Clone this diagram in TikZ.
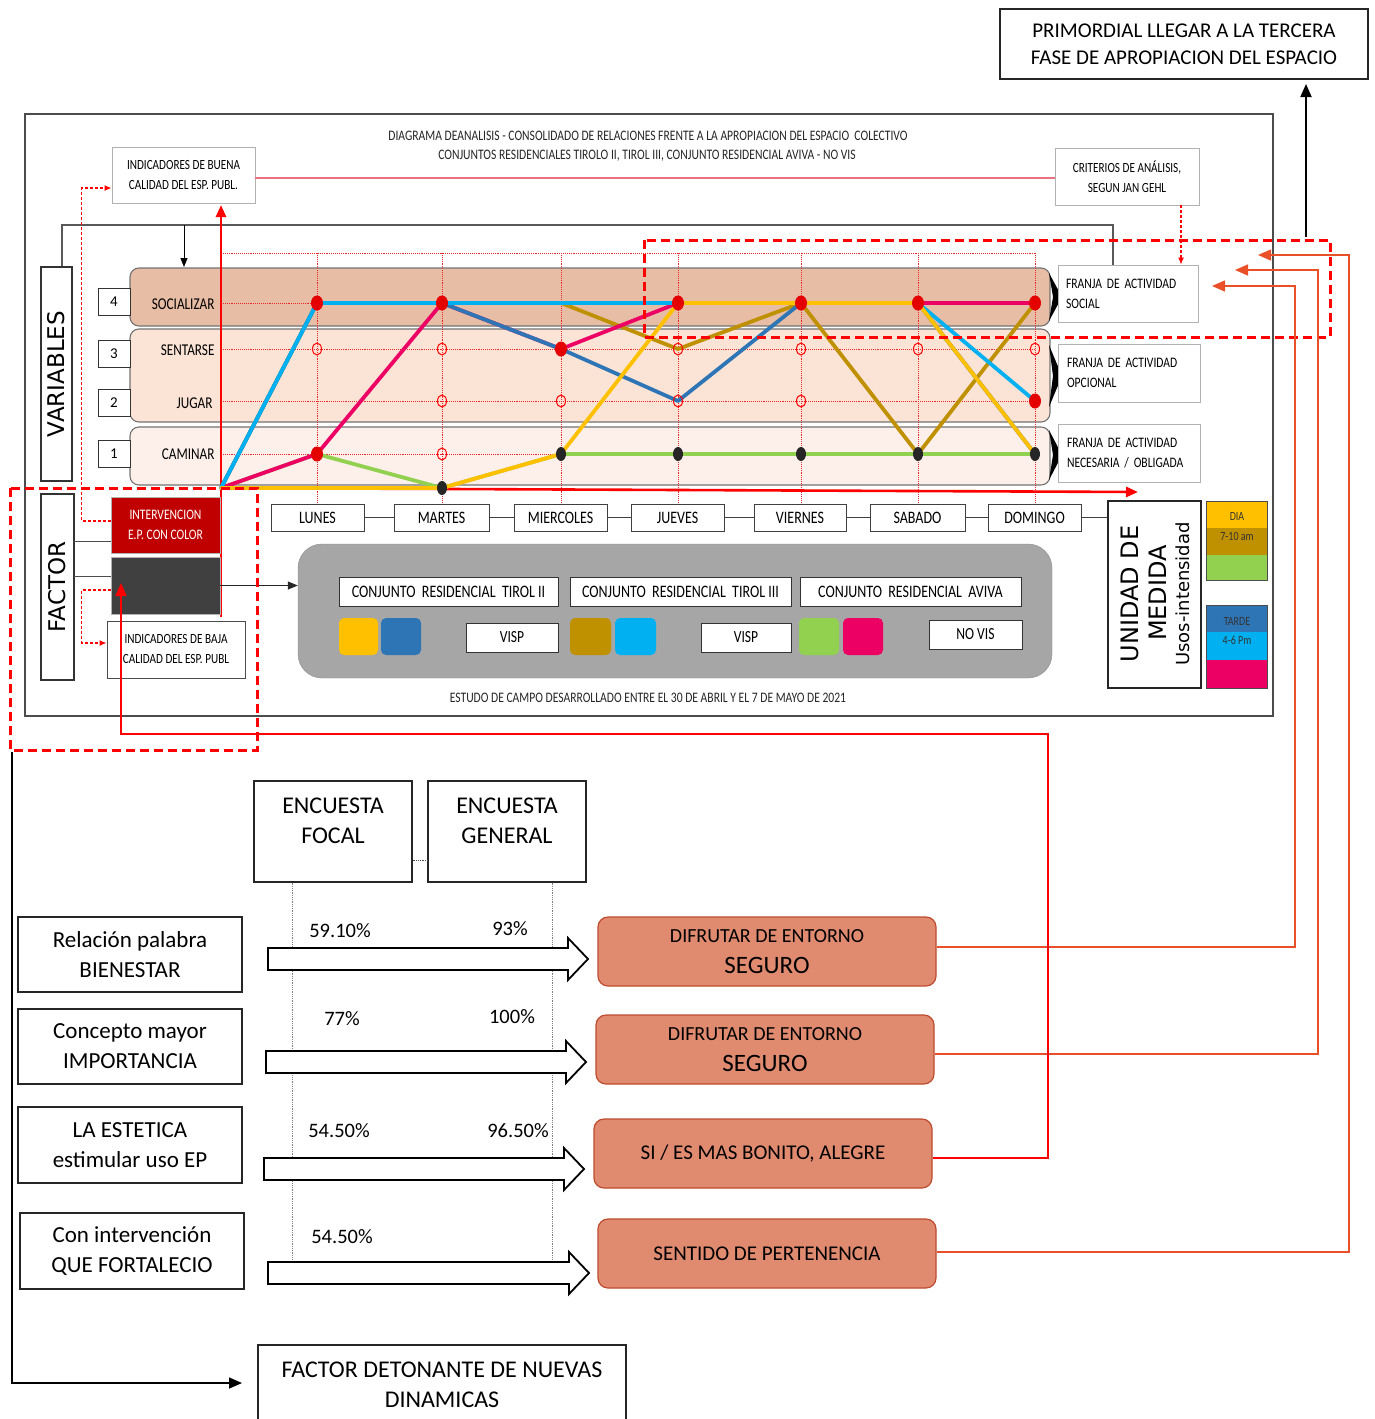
\documentclass[tikz,border=0pt]{standalone}
\usepackage{fontspec}
\setmainfont{Carlito}
\newfontfamily\cnd{Carlito}[FakeStretch=0.8]
\newfontfamily\dvs{DejaVu Sans}
\usetikzlibrary{arrows.meta,calc}
\definecolor{cYel}{RGB}{255,192,0}
\definecolor{cBlu}{RGB}{46,117,182}
\definecolor{cGold}{RGB}{191,144,0}
\definecolor{cLbl}{RGB}{0,176,240}
\definecolor{cGrn}{RGB}{146,208,80}
\definecolor{cPnk}{RGB}{236,0,100}
\definecolor{cBandA}{RGB}{231,189,166}
\definecolor{cBandB}{RGB}{251,228,214}
\definecolor{cBandC}{RGB}{253,240,234}
\definecolor{cOr}{RGB}{224,139,112}
\definecolor{cOrD}{RGB}{190,75,45}
\definecolor{cCon}{RGB}{233,80,40}
\definecolor{cPinkLine}{RGB}{236,112,128}
\definecolor{cDRed}{RGB}{192,0,0}
\definecolor{cGrp}{RGB}{166,166,166}
\definecolor{cGridR}{RGB}{230,40,40}
\begin{document}
\begin{tikzpicture}[x=1pt,y=-1pt,
  bbox/.style={draw, inner sep=0pt, align=center, fill=white},
  lbox/.style={bbox, draw=black!30, line width=0.9},
  dayb/.style={draw=black!75, line width=1, inner sep=0pt, minimum height=27, fill=white, font=\cnd\fontsize{17.5}{19}\selectfont},
  serl/.style={line width=3.8, line join=round, line cap=round},
  gridl/.style={cGridR, densely dotted, line width=0.9},
  rdash/.style={red, line width=3, dash pattern=on 9pt off 5pt},
  rdsmall/.style={red, line width=1.2, dash pattern=on 3pt off 2pt},
  arr/.style={-{Triangle[length=13pt,width=11pt]}},
  conn/.style={cCon, line width=1.6},
  bandst/.style={draw=black!55, line width=1.1, rounded corners=9pt},
  orb/.style={draw=cOrD, fill=cOr, line width=1.2, rounded corners=10pt, inner sep=0pt, align=center, minimum width=338, minimum height=69},
  wbox/.style={draw=black!85, line width=1.2, fill=white, inner sep=0pt, align=center},
  barrow/.style={draw=black, line width=1.8, fill=white, line join=miter},
  pct/.style={font=\fontsize{20.5}{24}\selectfont},
  legt/.style={font=\cnd\fontsize{12.5}{14}\selectfont, text=black!80}
]
\useasboundingbox (0,0) rectangle (1374,1419);
\fill[white] (0,0) rectangle (1374,1419);

% ---------- top box
\node[wbox, minimum width=368, minimum height=70, font=\fontsize{21}{27}\selectfont] (prim) at (1184,44) {PRIMORDIAL LLEGAR A LA TERCERA\\FASE DE APROPIACION DEL ESPACIO};
\coordinate (primstart) at (1306,237);
\draw[black, line width=1.8, arr] (primstart) -- (1306,84);

% ---------- main frame
\draw[black!70, line width=1.3] (25,114) rectangle (1273,716);

\node[font=\cnd\fontsize{14.5}{17}\selectfont, text=black!85] (t1) at (648,136) {DIAGRAMA DEANALISIS - CONSOLIDADO DE RELACIONES FRENTE A LA APROPIACION DEL ESPACIO\ \ COLECTIVO};
\node[font=\cnd\fontsize{14.5}{17}\selectfont, text=black!85] (t2) at (647,156) {CONJUNTOS RESIDENCIALES TIROLO II, TIROL III, CONJUNTO RESIDENCIAL AVIVA - NO VIS};

\node[lbox, minimum width=143, minimum height=56, font=\cnd\fontsize{14}{20}\selectfont] (buena) at (183.5,175) {INDICADORES DE BUENA\\CALIDAD DEL ESP. PUBL.};
\node[lbox, minimum width=144, minimum height=57, font=\cnd\fontsize{14}{20}\selectfont] (crit) at (1127,176.5) {CRITERIOS DE ANÁLISIS,\\SEGUN JAN GEHL};
\draw[cPinkLine, line width=1.3] ([yshift=-3]buena.east) -- ([yshift=-3]buena.east -| crit.west);

% ---------- bands
\draw[bandst, fill=cBandA] (130,268) rectangle (1050,326);
\draw[bandst, fill=cBandB] (130,329) rectangle (1050,422);
\draw[bandst, fill=cBandC] (130,427) rectangle (1050,485);
\fill[black] (1049,273) -- (1062,297) -- (1049,321) -- (1053,297) -- cycle;
\fill[black] (1049,345) -- (1062,376) -- (1049,407) -- (1053,376) -- cycle;
\fill[black] (1049,430) -- (1062,455) -- (1049,480) -- (1053,455) -- cycle;

% franja boxes
\node[lbox, minimum width=140, minimum height=57, text width=124, align=left, font=\cnd\fontsize{14.5}{20}\selectfont] (fS) at (1128,293.5) {FRANJA DE ACTIVIDAD\\SOCIAL};
\node[lbox, minimum width=142, minimum height=58, text width=124, align=left, font=\cnd\fontsize{14.5}{20}\selectfont] (fO) at (1129,373) {FRANJA DE ACTIVIDAD\\OPCIONAL};
\node[lbox, minimum width=142, minimum height=58, text width=124, align=left, font=\cnd\fontsize{14.5}{20}\selectfont] (fN) at (1129,453) {FRANJA DE ACTIVIDAD\\NECESARIA / OBLIGADA};
\draw[rdsmall, -{Latex[length=7pt,width=6pt]}] ([xshift=54]crit.south) -- ([xshift=53]fS.north);

% variables
\node[bbox, rotate=90, line width=1.1, draw=black!80, minimum width=214, minimum height=31, font=\dvs\fontsize{23}{26}\selectfont] (var) at (56.5,374) {VARIABLES};
\coordinate (fcorner) at (1113,225);
\draw[black!65, line width=1.2] ([xshift=5.5]var.east) |- (fcorner) -- ([xshift=-15]fS.north);
\coordinate (socA) at (184,225);
\draw[black, line width=1, -{Triangle[length=9pt,width=7pt]}] (socA) -- (184,267);

\foreach \n/\yy in {4/301.5, 3/353.5, 2/402.5, 1/454} {
  \node[bbox, draw=black!80, line width=1, minimum width=32, minimum height=27, font=\fontsize{15}{17}\selectfont] (num\n) at (114,\yy) {\n};
}
\node[anchor=east, font=\cnd\fontsize{16.5}{18}\selectfont] (lS) at (218,304) {SOCIALIZAR};
\node[anchor=east, font=\cnd\fontsize{16.5}{18}\selectfont] (lSe) at (218,350) {SENTARSE};
\node[anchor=east, font=\cnd\fontsize{16.5}{18}\selectfont] (lJ) at (216,403) {JUGAR};
\node[anchor=east, font=\cnd\fontsize{16.5}{18}\selectfont] (lC) at (218,454) {CAMINAR};

% grid
\foreach \yy in {253,303,349,401,454} \draw[gridl] (221,\yy) -- (1035,\yy);
\foreach \xx in {317,442,561,678,801,918,1035} \draw[gridl] (\xx,253) -- (\xx,505);

% axes
\coordinate (ax0) at (221,488);
\draw[red, line width=2.6, -{Triangle[length=12pt,width=10pt]}] (221,617) -- (221,205);
\draw[red, line width=2.6, -{Triangle[length=12pt,width=10pt]}] (ax0) -- (1138,492);

% series
\draw[serl, cGold] (ax0) -- (317,303) -- (442,303) -- (561,303) -- (678,349) -- (801,303) -- (918,454) -- (1035,303);
\draw[serl, cGrn] (ax0) -- (317,454) -- (442,488) -- (561,454) -- (678,454) -- (801,454) -- (918,454) -- (1035,454);
\draw[serl, cPnk] (ax0) -- (317,454) -- (442,303) -- (561,349) -- (678,303) -- (801,303) -- (918,303) -- (1035,303);
\draw[serl, cBlu] (ax0) -- (317,303) -- (442,303) -- (561,349) -- (678,401) -- (801,303) -- (918,303) -- (1035,454);
\draw[serl, cLbl] (ax0) -- (317,303) -- (442,303) -- (561,303) -- (678,303) -- (801,303) -- (918,303) -- (1035,401);
\draw[serl, cYel] (ax0) -- (442,488) -- (561,454) -- (678,303) -- (801,303) -- (918,303) -- (1035,454);

% markers
\foreach \xx/\yy in {317/349, 442/349, 442/401, 442/454, 561/401, 678/349, 678/401, 801/349, 801/401, 918/349, 1035/349}
  \draw[red, line width=1] (\xx,\yy) ellipse [x radius=4.5pt, y radius=6pt];
\foreach \xx/\yy in {317/303, 442/303, 678/303, 801/303, 918/303, 1035/303, 317/454, 561/349, 1035/401}
  \fill[red!90!black] (\xx,\yy) ellipse [x radius=6pt, y radius=7.5pt];
\foreach \xx/\yy in {442/488, 561/454, 678/454, 801/454, 918/454, 1035/454}
  \fill[black!85] (\xx,\yy) ellipse [x radius=5pt, y radius=7pt];

% day boxes
\node[dayb, minimum width=93] (dA) at (317.5,517.5) {LUNES};
\node[dayb, minimum width=95] (dB) at (441.5,517.5) {MARTES};
\node[dayb, minimum width=93] (dC) at (560.5,517.5) {MIERCOLES};
\node[dayb, minimum width=93] (dD) at (677.5,517.5) {JUEVES};
\node[dayb, minimum width=92] (dE) at (800,517.5) {VIERNES};
\node[dayb, minimum width=95] (dF) at (917.5,517.5) {SABADO};
\node[dayb, minimum width=93] (dG) at (1034.5,517.5) {DOMINGO};
\node[draw=black!85, line width=1.2, minimum width=93, minimum height=187, inner sep=0pt] (unidad) at (1154.5,594.5) {};
\foreach \a/\b in {dA/dB, dB/dC, dC/dD, dD/dE, dE/dF, dF/dG}
  \draw[black!75, line width=1] (\a.east) -- (\b.west);
\draw[black!75, line width=1] (dG.east) -- (dG.east -| unidad.west);
\node[rotate=90, font=\dvs\fontsize{24}{26}\selectfont] (u1) at (1130,594) {UNIDAD DE};
\node[rotate=90, font=\dvs\fontsize{24}{26}\selectfont] (u2) at (1158,593) {MEDIDA};
\node[rotate=90, font=\dvs\fontsize{18}{20}\selectfont] (u3) at (1183,594) {Usos-intensidad};

% legend
\fill[cYel] (1206,501) rectangle (1267,528);
\fill[cGold] (1206,528) rectangle (1267,555);
\fill[cGrn] (1206,555) rectangle (1267,580);
\draw[black!70, line width=1] (1206,501) rectangle (1267,580);
\node[legt] (lgDia) at (1237,516) {DIA};
\node[legt] (lgDiaH) at (1237,536) {7-10 am};
\fill[cBlu] (1206,605) rectangle (1267,632);
\fill[cLbl] (1206,632) rectangle (1267,660);
\fill[cPnk] (1206,660) rectangle (1267,688);
\draw[black!70, line width=1] (1206,605) rectangle (1267,688);
\node[legt] (lgT) at (1237,621) {TARDE};
\node[legt] (lgTH) at (1237,640) {4-6 Pm};

% factor
\node[bbox, rotate=90, line width=1.1, draw=black!80, minimum width=186, minimum height=33, font=\dvs\fontsize{23}{26}\selectfont] (fac) at (57.5,587) {FACTOR};
\node[draw=black!30, fill=cDRed, inner sep=0pt, minimum width=109, minimum height=56, align=center, text=white, font=\cnd\fontsize{14.5}{20}\selectfont] (interv) at (165.5,525) {INTERVENCION\\E.P. CON COLOR};
\node[draw=black!30, fill=black!75, inner sep=0pt, minimum width=109, minimum height=57] (dark) at (165.5,585.5) {};
\node[lbox, draw=black!70, minimum width=138, minimum height=57, font=\cnd\fontsize{14}{20}\selectfont] (baja) at (176,649.5) {INDICADORES DE BAJA\\CALIDAD DEL ESP. PUBL};
\draw[black!70, line width=1] ([yshift=-16]interv.west) -- ++(-37,0);
\draw[black!70, line width=1] ([yshift=9.5]dark.west) -- ++(-37,0);
\draw[rdsmall, -{Latex[length=7pt,width=6pt]}] ([yshift=4]interv.west) -- ++(-29,0) |- ([yshift=-13]buena.west);
\draw[rdsmall, -{Latex[length=7pt,width=6pt]}] ([yshift=-4.5]dark.west) -- ++(-29,0) |- ([yshift=6.5]baja.west);

% group box
\node[draw=black!45, fill=cGrp, rounded corners=24pt, minimum width=754, minimum height=134, inner sep=0pt] (grp) at (675,611) {};
\draw[black!85, line width=1, -{Triangle[length=10pt,width=8pt]}] (dark.east) -- (dark.east -| grp.west);
\node[bbox, draw=black!80, line width=1, minimum width=219, minimum height=29, font=\cnd\fontsize{17.5}{19}\selectfont] (cA) at (448.5,591.5) {CONJUNTO\ \ RESIDENCIAL\ \ TIROL II};
\node[bbox, draw=black!80, line width=1, minimum width=221, minimum height=29, font=\cnd\fontsize{17.5}{19}\selectfont] (cB) at (680.5,591.5) {CONJUNTO\ \ RESIDENCIAL\ \ TIROL III};
\node[bbox, draw=black!80, line width=1, minimum width=221, minimum height=29, font=\cnd\fontsize{17.5}{19}\selectfont] (cC) at (910.5,591.5) {CONJUNTO\ \ RESIDENCIAL\ \ AVIVA};
\foreach \xa/\xb/\cc in {339/378/cYel, 381/421/cBlu, 570/611/cGold, 615/656/cLbl, 799/839/cGrn, 843/883/cPnk} {
  \fill[black!35] (\xa+3,621) rectangle (\xb+3,658);
  \fill[\cc, rounded corners=5pt] (\xa,618) rectangle (\xb,655);
}
\node[bbox, draw=black!80, line width=1, minimum width=92, minimum height=29, font=\cnd\fontsize{17}{19}\selectfont] (vA) at (512,637.5) {VISP};
\node[bbox, draw=black!80, line width=1, minimum width=90, minimum height=29, font=\cnd\fontsize{17}{19}\selectfont] (vB) at (746,637.5) {VISP};
\node[bbox, draw=black!80, line width=1, minimum width=93, minimum height=29, font=\cnd\fontsize{17}{19}\selectfont] (vC) at (975.5,634.5) {NO VIS};
\node[font=\cnd\fontsize{14.5}{17}\selectfont, text=black!85] (estudo) at (648,698) {ESTUDO DE CAMPO DESARROLLADO ENTRE EL 30 DE ABRIL Y EL 7 DE MAYO DE 2021};

% red dashed frames
\draw[rdash] (644,240) rectangle (1330,337);
\draw[rdash] (10,488) rectangle (257,750);

% ---------- bottom section
\node[wbox, minimum width=158, minimum height=101] (encA) at (333,831.5) {};
\node[wbox, minimum width=158, minimum height=101] (encB) at (507,831.5) {};
\node[align=center, font=\fontsize{24}{30}\selectfont] (encAt) at (333,821) {ENCUESTA\\FOCAL};
\node[align=center, font=\fontsize{24}{30}\selectfont] (encBt) at (507,821) {ENCUESTA\\GENERAL};
\draw[black!70, densely dotted, line width=0.8] ([yshift=-28.5]encA.east) -- ([yshift=-28.5]encB.west);
\draw[gray, densely dotted, line width=0.8] ([xshift=-41]encA.south) -- ++(0,380);
\draw[gray, densely dotted, line width=0.8] ([xshift=45]encB.south) -- ++(0,380);

\node[wbox, minimum width=224, minimum height=75, font=\fontsize{23}{30}\selectfont] (bA) at (130,954.5) {Relación palabra\\BIENESTAR};
\node[wbox, minimum width=224, minimum height=75, font=\fontsize{23}{30}\selectfont] (bB) at (130,1046.5) {Concepto mayor\\IMPORTANCIA};
\node[wbox, minimum width=224, minimum height=76, font=\fontsize{23}{30}\selectfont] (bC) at (130,1145) {LA ESTETICA\\estimular uso EP};
\node[wbox, minimum width=224, minimum height=76, font=\fontsize{23}{30}\selectfont] (bD) at (132,1251) {Con intervención\\QUE FORTALECIO};

\draw[barrow] (268,948) -- (568,948) -- (568,938) -- (588,959) -- (568,980) -- (568,970) -- (268,970) -- cycle;
\draw[barrow] (266,1051) -- (566,1051) -- (566,1041) -- (586,1062) -- (566,1083) -- (566,1073) -- (266,1073) -- cycle;
\draw[barrow] (264,1158) -- (564,1158) -- (564,1148) -- (584,1169) -- (564,1190) -- (564,1180) -- (264,1180) -- cycle;
\draw[barrow] (268,1262) -- (569,1262) -- (569,1252) -- (589,1273) -- (569,1294) -- (569,1284) -- (268,1284) -- cycle;

\node[pct] (pA1) at (340,931) {59.10\%};
\node[pct] (pA2) at (510,929) {93\%};
\node[pct] (pB1) at (342,1019) {77\%};
\node[pct] (pB2) at (512,1017) {100\%};
\node[pct] (pC1) at (339,1131) {54.50\%};
\node[pct] (pC2) at (518,1131) {96.50\%};
\node[pct] (pD1) at (342,1237) {54.50\%};

\node[orb, font=\fontsize{20}{31}\selectfont] (oA) at (767,951.5) {DIFRUTAR DE ENTORNO\\{\fontsize{25}{31}\selectfont SEGURO}};
\node[orb, font=\fontsize{20}{31}\selectfont] (oB) at (765,1049.5) {DIFRUTAR DE ENTORNO\\{\fontsize{25}{31}\selectfont SEGURO}};
\node[orb, font=\fontsize{21}{24}\selectfont] (oC) at (763,1153.5) {SI / ES MAS BONITO, ALEGRE};
\node[orb, font=\fontsize{21}{24}\selectfont] (oD) at (767,1253.5) {SENTIDO DE PERTENENCIA};

% connectors back to the chart
\coordinate (tgA) at (1212,286);
\coordinate (tgB) at (1235,270);
\coordinate (tgC) at (1258,255);
\coordinate (tgD) at (121,583);
\draw[conn, arr] ([yshift=4.5]oA.east) -| (1295,286) -- (tgA);
\draw[conn, arr] ([yshift=-4.5]oB.east) -| (1318,270) -- (tgB);
\draw[conn, arr] ([yshift=1.5]oD.east) -| (1349,255) -- (tgC);
\draw[red, line width=1.6, arr] ([yshift=-4.5]oC.east) -| (1048,734) -| (tgD);

% factor detonante
\node[wbox, minimum width=368, minimum height=80, font=\fontsize{24}{30}\selectfont] (fd) at (442,1385) {FACTOR DETONANTE DE NUEVAS\\DINAMICAS};
\coordinate (blstart) at (12,752);
\coordinate (fdtip) at (242,1383);
\draw[black, line width=1.6, arr] (blstart) |- (fdtip);
\end{tikzpicture}
\end{document}
